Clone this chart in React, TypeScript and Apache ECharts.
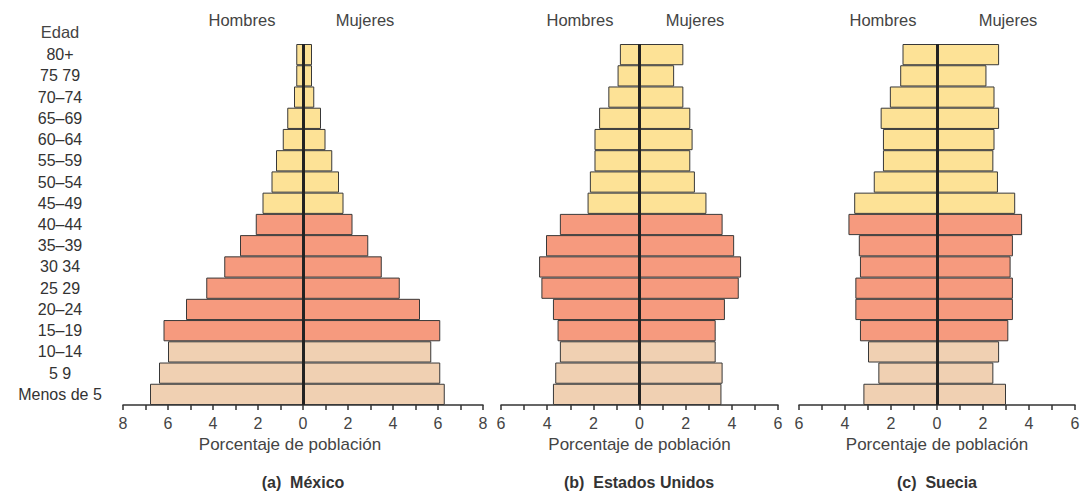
import React, { useEffect, useRef } from "react";
import * as echarts from "echarts";

// Age groups, bottom (youngest) to top (oldest)
const categories = [
  "Menos de 5", "5 9", "10–14", "15–19", "20–24", "25 29", "30 34", "35–39",
  "40–44", "45–49", "50–54", "55–59", "60–64", "65–69", "70–74", "75 79", "80+",
];

const mexicoMen = [6.8, 6.4, 6.0, 6.2, 5.2, 4.3, 3.5, 2.8, 2.1, 1.8, 1.4, 1.2, 0.9, 0.7, 0.4, 0.3, 0.3];
const mexicoWomen = [6.3, 6.1, 5.7, 6.1, 5.2, 4.3, 3.5, 2.9, 2.2, 1.8, 1.6, 1.3, 1.0, 0.8, 0.5, 0.4, 0.4];
const usaMen = [3.75, 3.65, 3.45, 3.55, 3.75, 4.25, 4.35, 4.05, 3.45, 2.25, 2.15, 1.95, 1.95, 1.75, 1.35, 0.95, 0.85];
const usaWomen = [3.55, 3.6, 3.3, 3.3, 3.7, 4.3, 4.4, 4.1, 3.6, 2.9, 2.4, 2.2, 2.3, 2.2, 1.9, 1.5, 1.9];
const swedenMen = [3.2, 2.55, 3.0, 3.35, 3.55, 3.55, 3.35, 3.4, 3.85, 3.6, 2.75, 2.35, 2.35, 2.45, 2.05, 1.6, 1.5];
const swedenWomen = [3.0, 2.45, 2.7, 3.1, 3.3, 3.3, 3.2, 3.3, 3.7, 3.4, 2.65, 2.45, 2.5, 2.7, 2.5, 2.15, 2.7];

const panelTitles = ["(a)  México", "(b)  Estados Unidos", "(c)  Suecia"];
const axisMax = [8, 6, 6];
const headerMen = "Hombres";
const headerWomen = "Mujeres";
const axisName = "Porcentaje de población";
const ageTitle = "Edad";

const FONT = "'Liberation Sans', Arial, Helvetica, sans-serif";
const C_YOUNG = "#F0D0B2";
const C_ADULT = "#F69A7E";
const C_OLD = "#FDE296";

function colorFor(i: number) {
  if (i <= 2) return C_YOUNG;
  if (i <= 8) return C_ADULT;
  return C_OLD;
}

const grids = [
  { left: 123, width: 360 },
  { left: 501, width: 277 },
  { left: 799, width: 276 },
];
const headerPos = [
  [242, 365],
  [580, 695],
  [883, 1008],
];
const zeroX = [303, 639, 937];
const namePadding = [
  [0, 26, 0, 0],
  [0, 0, 0, 0],
  [0, 0, 0, 0],
];

export default function App() {
  const ref = useRef<HTMLDivElement>(null);
  useEffect(() => {
    if (!ref.current) return;
    const chart = echarts.init(ref.current, undefined, { renderer: "svg" });
    const data = [
      [mexicoMen, mexicoWomen],
      [usaMen, usaWomen],
      [swedenMen, swedenWomen],
    ];
    const series: any[] = [];
    data.forEach(([men, women], k) => {
      const base = {
        type: "bar",
        stack: "s" + k,
        xAxisIndex: k,
        yAxisIndex: k,
        barCategoryGap: "0%",
        itemStyle: {
          color: (p: any) => colorFor(p.dataIndex),
          borderColor: "#383838",
          borderWidth: 1,
        },
      };
      series.push({
        ...base,
        name: headerMen + k,
        data: men.map((v) => -v),
      });
      series.push({
        ...base,
        name: headerWomen + k,
        data: women,
        markLine: {
          silent: true,
          symbol: ["none", "none"],
          label: { show: false },
          lineStyle: { color: "#222", width: 3, type: "solid" },
          data: [{ xAxis: 0 }],
        },
      });
    });

    const graphic: any[] = [];
    headerPos.forEach(([m, w]) => {
      graphic.push({
        type: "text", x: m, y: 20,
        style: { text: headerMen, fontSize: 16.5, fontFamily: FONT, fill: "#444", align: "center", verticalAlign: "middle" },
      });
      graphic.push({
        type: "text", x: w, y: 20,
        style: { text: headerWomen, fontSize: 16.5, fontFamily: FONT, fill: "#444", align: "center", verticalAlign: "middle" },
      });
    });
    zeroX.forEach((x, k) => {
      graphic.push({
        type: "text", x, y: 482,
        style: { text: panelTitles[k], fontSize: 16, fontWeight: "bold", fontFamily: FONT, fill: "#333", align: "center", verticalAlign: "middle" },
      });
    });
    graphic.push({
      type: "text", x: 60, y: 32,
      style: { text: ageTitle, fontSize: 16.5, fontFamily: FONT, fill: "#444", align: "center", verticalAlign: "middle" },
    });

    chart.setOption({
      animation: false,
      backgroundColor: "#fff",
      textStyle: { fontFamily: FONT },
      grid: grids.map((g) => ({ left: g.left, width: g.width, top: 44, bottom: 88 })),
      xAxis: axisMax.map((m, k) => ({
        type: "value",
        gridIndex: k,
        min: -m,
        max: m,
        interval: 1,
        name: axisName,
        nameLocation: "middle",
        nameGap: 28,
        nameTextStyle: { fontSize: 17, color: "#444", fontFamily: FONT, padding: namePadding[k] },
        axisLine: { show: true, onZero: false, lineStyle: { color: "#333", width: 1.5 } },
        axisTick: { show: true, length: 5, lineStyle: { color: "#333", width: 1.5 } },
        splitLine: { show: false },
        axisLabel: {
          fontSize: 16,
          color: "#444",
          margin: 10,
          fontFamily: FONT,
          formatter: (v: number) => (Math.round(v) % 2 === 0 ? String(Math.abs(Math.round(v))) : ""),
        },
      })),
      yAxis: axisMax.map((_, k) => ({
        type: "category",
        gridIndex: k,
        data: categories,
        axisLine: { show: false },
        axisTick: { show: false },
        axisLabel: {
          show: k === 0,
          interval: 0,
          fontSize: 16,
          color: "#333",
          align: "center",
          margin: 63,
          fontFamily: FONT,
        },
      })),
      series,
      graphic,
    });
    return () => chart.dispose();
  }, []);
  return (
    <div
      ref={ref}
      style={{ position: "fixed", left: 0, top: 0, width: 1084, height: 493, background: "#fff" }}
    />
  );
}
